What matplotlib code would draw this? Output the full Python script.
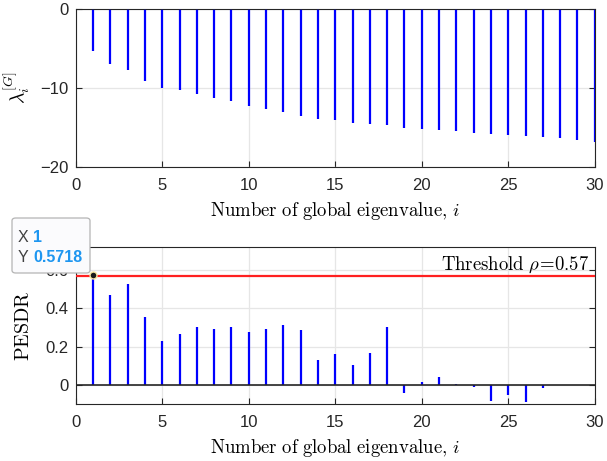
import numpy as np
import matplotlib
matplotlib.use("Agg")
import matplotlib.pyplot as plt
from matplotlib.patches import FancyBboxPatch

plt.rcParams['font.family'] = ['Liberation Sans', 'DejaVu Sans']
plt.rcParams['mathtext.fontset'] = 'cm'

# global eigenvalues (top) and PESDR per eigenvalue (bottom)
idx = np.arange(1, 31)
lam_G = [-5.3, -6.9, -7.7, -9.1, -10.0, -10.3, -10.8, -11.3, -11.7, -12.3,
         -12.6, -13.0, -13.5, -13.9, -14.05, -14.4, -14.5, -14.7, -15.05, -15.2,
         -15.3, -15.5, -15.65, -15.85, -16.0, -16.1, -16.2, -16.35, -16.6, -16.8]
pesdr = [0.5718, 0.468, 0.526, 0.353, 0.230, 0.267, 0.301, 0.293, 0.300, 0.274,
         0.294, 0.313, 0.289, 0.132, 0.161, 0.106, 0.165, 0.301, -0.042, 0.014,
         0.042, 0.002, -0.012, -0.083, -0.054, -0.090, -0.014, 0.0, 0.0, 0.0]
rho = 0.57

W, H = 607, 461
fig = plt.figure(figsize=(W / 100, H / 100), dpi=100)
ax1 = fig.add_axes([75.7 / W, 1 - 167 / H, 519 / W, 158 / H])
ax2 = fig.add_axes([75.7 / W, 1 - 404 / H, 519 / W, 157 / H])

axc = '#262626'
for ax in (ax1, ax2):
    ax.set_xlim(0, 30)
    ax.set_xticks(range(0, 31, 5))
    ax.grid(True, color='#e6e6e6', lw=0.9)
    ax.set_axisbelow(True)
    ax.tick_params(direction='in', length=4, width=0.8, colors=axc,
                   labelsize=12, right=True, top=False, pad=5)
    ax.tick_params(axis='x', pad=8)
    for s in ax.spines.values():
        s.set_color(axc)
        s.set_linewidth(0.8)
    ax.set_xlabel(r'$\mathrm{Number\ of\ global\ eigenvalue{,}}\ i$',
                  fontsize=13.5, color='black', labelpad=5)

# top: eigenvalue stems
ax1.vlines(idx, 0, lam_G, color='#0000ff', lw=1.6, zorder=3)
ax1.axhline(0, color=axc, lw=1.2, zorder=4)
ax1.set_ylim(-20, 0)
ax1.set_yticks([-20, -10, 0])
ax1.set_ylabel(r'$\lambda_i^{[G]}$', fontsize=14, labelpad=6)

# bottom: PESDR stems with threshold
ax2.vlines(idx, 0, pesdr, color='#0000ff', lw=1.6, zorder=3)
ax2.axhline(0, color=axc, lw=1.2, zorder=4)
ax2.axhline(rho, color='#ff2020', lw=1.6, zorder=4)
ax2.set_ylim(-0.1, 0.72)
ax2.set_yticks([0, 0.2, 0.4, 0.6])
ax2.set_yticklabels(['0', '0.2', '0.4', '0.6'])
ax2.set_ylabel(r'$\mathrm{PESDR}$', fontsize=14.5, labelpad=9)
ax2.text(0.99, 0.955, r'$\mathrm{Threshold}\ \rho\!=\!0.57$', transform=ax2.transAxes,
         ha='right', va='top', fontsize=13.5)

# data tip on the first point
ax2.plot(idx[0], pesdr[0], 'o', ms=5, mfc='#1a1a1a', mec='#f5e6a0', mew=1,
         zorder=6, clip_on=False)
box = FancyBboxPatch((12 / W, 1 - 273 / H), 78 / W, 55 / H,
                     boxstyle='round,pad=0,rounding_size=0.006',
                     transform=fig.transFigure, fc='#fbfbfd', ec='#b4b4b4', lw=0.9,
                     zorder=10)
fig.patches.append(box)
tipc = '#1e96f0'
fig.text(18 / W, 1 - 237 / H, 'X', fontsize=11.5, color='#404040', va='center', zorder=11)
fig.text(33 / W, 1 - 237 / H, f'{idx[0]}', fontsize=11.5, color=tipc,
         fontweight='bold', va='center', zorder=11)
fig.text(18 / W, 1 - 257 / H, 'Y', fontsize=11.5, color='#404040', va='center', zorder=11)
fig.text(33 / W, 1 - 257 / H, f'{pesdr[0]:.4f}', fontsize=11.5, color=tipc,
         fontweight='bold', va='center', zorder=11)

fig.savefig('out.png', dpi=100)
